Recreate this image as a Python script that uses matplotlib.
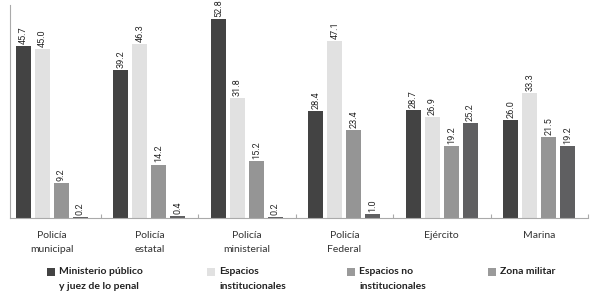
import matplotlib
matplotlib.use("Agg")
import matplotlib.pyplot as plt
from matplotlib.patches import Rectangle
import numpy as np

categories = ["Policía\nmunicipal", "Policía\nestatal", "Policía\nministerial",
              "Policía\nFederal", "Ejército", "Marina"]
series_names = ["Ministerio público\ny juez de lo penal", "Espacios\ninstitucionales",
                "Espacios no\ninstitucionales", "Zona militar"]
ministerio = [45.7, 39.2, 52.8, 28.4, 28.7, 26.0]
espacios_inst = [45.0, 46.3, 31.8, 47.1, 26.9, 33.3]
espacios_no = [9.2, 14.2, 15.2, 23.4, 19.2, 21.5]
zona_militar = [0.2, 0.4, 0.2, 1.0, 25.2, 19.2]

series = [ministerio, espacios_inst, espacios_no, zona_militar]
colors = ["#434343", "#e1e1e1", "#959595", "#5f5f61"]
legend_colors = ["#434343", "#e1e1e1", "#9a9a9a", "#9a9a9a"]

plt.rcParams['font.family'] = ['Lato', 'DejaVu Sans']

W, H = 594, 303
fig = plt.figure(figsize=(W / 100, H / 100), dpi=100)
ax = fig.add_axes([10 / W, 85 / H, 578 / W, 213 / H])

x = np.arange(len(categories))
step = 0.195
width = 0.154
for i, (vals, c) in enumerate(zip(series, colors)):
    pos = x + (i - 1.5) * step
    ax.bar(pos, vals, width=width, color=c, zorder=2)
    for p, v in zip(pos, vals):
        ax.annotate(f"{v:.1f}", (p, v), xytext=(0, 1.5), textcoords="offset points",
                    rotation=90, ha="center", va="bottom", fontsize=6.6,
                    color="#2a2a2a", family=['Roboto', 'DejaVu Sans'])

ax.set_xlim(-0.43, 5.5)
ax.set_ylim(0, 56.6)
ax.set_yticks([])
ax.set_xticks(x)
ax.set_xticklabels(categories, fontsize=7.5, color="#333333", linespacing=1.75)
ax.tick_params(axis="x", which="major", length=0, pad=9)
ax.set_xticks(np.arange(0.5, 6, 1), minor=True)
ax.tick_params(axis="x", which="minor", direction="in", length=3, color="#aaaaaa", width=0.8)
for s in ["top", "right"]:
    ax.spines[s].set_visible(False)
ax.spines["left"].set_color("#aaaaaa")
ax.spines["left"].set_linewidth(0.8)
ax.spines["bottom"].set_color("#aaaaaa")
ax.spines["bottom"].set_linewidth(0.8)

# legend, built by hand so squares align with first text line
sq_x = [47, 207, 347, 488]
for sx, name, c in zip(sq_x, series_names, legend_colors):
    fig.add_artist(Rectangle((sx / W, 1 - 276 / H), 8 / W, 8 / H,
                             transform=fig.transFigure, facecolor=c, edgecolor="none"))
    fig.text((sx + 12) / W, 1 - 267 / H, name, ha="left", va="top",
             fontsize=7.5, fontweight="bold", color="#222222", linespacing=1.8)

fig.savefig("out.png", dpi=100)
